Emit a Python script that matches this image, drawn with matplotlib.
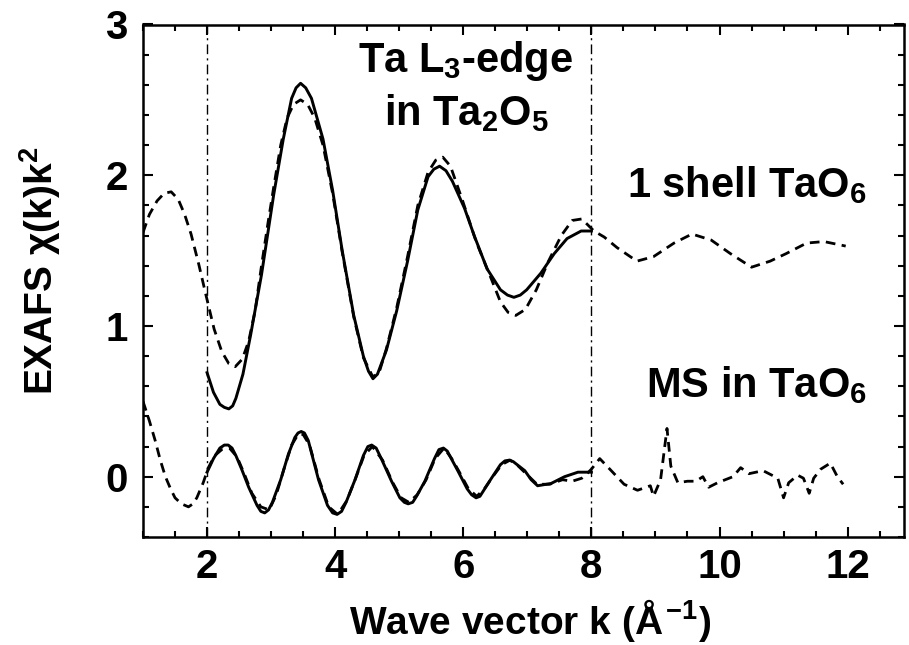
import matplotlib
matplotlib.use("Agg")
import matplotlib.pyplot as plt
from matplotlib.ticker import MultipleLocator, FixedLocator

plt.rcParams['font.family'] = ['Liberation Sans', 'DejaVu Sans']
plt.rcParams['font.weight'] = 'bold'
plt.rcParams['mathtext.fontset'] = 'custom'
plt.rcParams['mathtext.rm'] = 'Liberation Sans:bold'
plt.rcParams['mathtext.it'] = 'Liberation Sans:bold'
plt.rcParams['mathtext.bf'] = 'Liberation Sans:bold'
plt.rcParams['mathtext.sf'] = 'Liberation Sans:bold'

# ---- data: 1 shell TaO6 (fit, solid) ----
k_fit1 = [2.00, 2.10, 2.20, 2.27, 2.34, 2.40, 2.45, 2.56, 2.68, 2.85, 3.04, 3.19, 3.32, 3.39,
          3.46, 3.54, 3.63, 3.81, 3.96, 4.11, 4.29, 4.44, 4.52, 4.59, 4.66, 4.80, 4.96, 5.13,
          5.29, 5.45, 5.54, 5.63, 5.73, 5.83, 6.02, 6.17, 6.37, 6.58, 6.69, 6.79, 6.89, 6.99,
          7.21, 7.42, 7.62, 7.84, 8.00]
chi_fit1 = [0.69, 0.56, 0.48, 0.46, 0.45, 0.47, 0.52, 0.68, 0.94, 1.34, 1.87, 2.24, 2.51, 2.58,
            2.61, 2.58, 2.51, 2.24, 1.90, 1.50, 1.07, 0.80, 0.70, 0.65, 0.68, 0.84, 1.10, 1.43,
            1.77, 1.99, 2.04, 2.06, 2.03, 1.96, 1.78, 1.60, 1.38, 1.24, 1.205, 1.19, 1.205, 1.24,
            1.35, 1.48, 1.58, 1.63, 1.63]

# ---- data: 1 shell TaO6 (experiment, dashed) ----
k_exp1 = [1.00, 1.10, 1.22, 1.33, 1.44, 1.55, 1.65, 1.75, 1.87, 1.98, 2.11, 2.23, 2.34,
          2.44, 2.55, 2.65, 2.75, 2.85, 2.95, 3.04, 3.15, 3.25, 3.35, 3.46, 3.57, 3.68,
          3.81, 3.96, 4.11, 4.29, 4.44, 4.59, 4.70, 4.80, 4.96, 5.13, 5.29, 5.45, 5.57,
          5.68, 5.80, 5.99, 6.20, 6.43, 6.58, 6.70, 6.82, 6.97, 7.14, 7.33, 7.53, 7.70,
          7.85, 8.04, 8.20, 8.40, 8.71, 8.97, 9.29, 9.57, 9.87, 10.17, 10.50, 10.79,
          11.04, 11.36, 11.63, 11.97]
chi_exp1 = [1.62, 1.74, 1.83, 1.88, 1.89, 1.84, 1.74, 1.61, 1.41, 1.21, 0.98, 0.83, 0.75,
            0.73, 0.78, 0.90, 1.10, 1.40, 1.68, 1.92, 2.20, 2.38, 2.47, 2.50, 2.47, 2.38,
            2.20, 1.88, 1.49, 1.06, 0.79, 0.66, 0.71, 0.85, 1.12, 1.46, 1.80, 2.02, 2.10,
            2.12, 2.06, 1.83, 1.56, 1.32, 1.16, 1.09, 1.07, 1.11, 1.24, 1.43, 1.60, 1.70,
            1.71, 1.63, 1.59, 1.52, 1.43, 1.46, 1.55, 1.61, 1.57, 1.48, 1.39, 1.43,
            1.48, 1.55, 1.56, 1.53]

# ---- data: MS in TaO6 (fit, solid) ----
k_fitms = [2.00, 2.10, 2.20, 2.27, 2.33, 2.39, 2.45, 2.54, 2.65, 2.78, 2.84, 2.90, 2.96,
           3.02, 3.15, 3.27, 3.37, 3.42, 3.47, 3.52, 3.58, 3.74, 3.88, 3.96, 4.03, 4.10,
           4.17, 4.31, 4.44, 4.51, 4.57, 4.64, 4.72, 4.88, 5.01, 5.08, 5.14, 5.21, 5.27,
           5.40, 5.55, 5.62, 5.69, 5.75, 5.80, 5.92, 6.06, 6.13, 6.20, 6.26, 6.32, 6.44,
           6.58, 6.65, 6.72, 6.78, 6.84, 6.96, 7.06, 7.16, 7.37, 7.58, 7.79, 8.00]
chi_fitms = [0.03, 0.12, 0.19, 0.21, 0.21, 0.19, 0.14, 0.05, -0.07, -0.19, -0.23, -0.24, -0.22,
             -0.17, -0.02, 0.15, 0.26, 0.29, 0.30, 0.29, 0.24, -0.02, -0.19, -0.24, -0.25, -0.23,
             -0.17, -0.02, 0.14, 0.20, 0.21, 0.19, 0.12, -0.03, -0.14, -0.17, -0.18, -0.17, -0.13,
             -0.03, 0.12, 0.18, 0.19, 0.17, 0.13, 0.035, -0.08, -0.12, -0.14, -0.13, -0.09, -0.01,
             0.08, 0.105, 0.11, 0.10, 0.08, 0.04, -0.02, -0.06, -0.045, 0.00, 0.03, 0.03]

# ---- data: MS in TaO6 (experiment, dashed) ----
k_expms = [1.00, 1.10, 1.19, 1.27, 1.35, 1.43, 1.50, 1.60, 1.71, 1.78, 1.84, 1.94, 2.02,
           2.12, 2.23, 2.35, 2.47, 2.58, 2.70, 2.84, 2.97, 3.08, 3.20, 3.32, 3.42, 3.50,
           3.60, 3.75, 3.90, 4.04, 4.18, 4.32, 4.45, 4.58, 4.74, 4.90, 5.03, 5.15, 5.28,
           5.42, 5.56, 5.70, 5.82, 5.94, 6.08, 6.21, 6.33, 6.46, 6.60, 6.73, 6.86, 6.98,
           7.15, 7.35, 7.55, 7.70, 7.85, 7.93, 8.00, 8.13, 8.31, 8.51, 8.72, 8.92, 8.97,
           9.08, 9.18, 9.24, 9.35, 9.50, 9.63, 9.74, 9.83, 9.97, 10.21, 10.33, 10.46,
           10.68, 10.91, 11.00, 11.08, 11.22, 11.31, 11.40, 11.47, 11.58, 11.73, 11.84, 11.93]
chi_expms = [0.50, 0.37, 0.24, 0.11, 0.00, -0.08, -0.14, -0.18, -0.20, -0.18, -0.14, -0.04, 0.06,
             0.14, 0.18, 0.19, 0.13, 0.02, -0.11, -0.20, -0.22, -0.12, 0.05, 0.21, 0.28, 0.28,
             0.21, -0.02, -0.20, -0.25, -0.16, -0.01, 0.14, 0.20, 0.11, -0.04, -0.14, -0.17, -0.12,
             -0.02, 0.12, 0.19, 0.12, 0.03, -0.08, -0.13, -0.08, 0.00, 0.08, 0.11, 0.07, 0.02,
             -0.05, -0.05, -0.02, -0.03, -0.01, 0.02, 0.05, 0.12, 0.04, -0.05, -0.09, -0.06, -0.13,
             -0.02, 0.32, 0.07, -0.04, -0.03, -0.03, 0.00, -0.07, -0.04, 0.00, 0.06, 0.02,
             0.04, -0.01, -0.14, -0.04, 0.01, -0.01, -0.11, -0.01, 0.05, 0.09, 0.00, -0.05]

window_k = [2, 8]
x_ticks = [2, 4, 6, 8, 10, 12]
y_ticks = [0, 1, 2, 3]

W, H = 909, 645
fig = plt.figure(figsize=(W / 100, H / 100), dpi=100)
ax = fig.add_axes([143 / W, 1 - 537 / H, (904 - 143) / W, (537 - 24.5) / H])

dash = (0, (3.5, 2.3))
ax.plot(k_exp1, chi_exp1, color='black', lw=2.0, ls=dash, dash_capstyle='butt')
ax.plot(k_fit1, chi_fit1, color='black', lw=2.1, solid_joinstyle='round')
ax.plot(k_expms, chi_expms, color='black', lw=2.0, ls=dash, dash_capstyle='butt')
ax.plot(k_fitms, chi_fitms, color='black', lw=2.1, solid_joinstyle='round')
for kv in window_k:
    ax.axvline(kv, color='black', lw=1.0, ls=(0, (7, 3, 1.5, 3)))

ax.set_xlim(1.0, 12.88)
ax.set_ylim(-0.4, 3.0)
ax.xaxis.set_major_locator(FixedLocator(x_ticks))
ax.xaxis.set_minor_locator(MultipleLocator(0.5))
ax.yaxis.set_major_locator(FixedLocator(y_ticks))
ax.yaxis.set_minor_locator(MultipleLocator(0.2))
ax.tick_params(which='both', direction='in', top=True, right=True, width=1.5, color='black')
ax.tick_params(which='major', length=7)
ax.tick_params(which='minor', length=4)
ax.tick_params(axis='x', which='major', labelsize=29, pad=8)
ax.tick_params(axis='y', which='major', labelsize=29, pad=11)
for lab in ax.get_xticklabels() + ax.get_yticklabels():
    lab.set_fontweight('bold')
for sp in ax.spines.values():
    sp.set_linewidth(1.8)

fig.text(530 / W, 11 / H, r'Wave vector k ($\AA^{-1}$)', ha='center', va='baseline',
         fontsize=28, fontweight='bold')
fig.text(40 / W, 1 - 271 / H, r'EXAFS χ(k)k$^2$', ha='center', va='center',
         rotation=90, fontsize=28, fontweight='bold')

fig.text(465 / W, 1 - 72 / H, r'Ta L$_3$-edge', ha='center', va='baseline',
         fontsize=30, fontweight='bold')
fig.text(467 / W, 1 - 125 / H, r'in Ta$_2$O$_5$', ha='center', va='baseline',
         fontsize=30, fontweight='bold')
fig.text(747 / W, 1 - 197 / H, r'1 shell TaO$_6$', ha='center', va='baseline',
         fontsize=30, fontweight='bold')
fig.text(757 / W, 1 - 397 / H, r'MS in TaO$_6$', ha='center', va='baseline',
         fontsize=30, fontweight='bold')

fig.savefig('out.png', dpi=100)
